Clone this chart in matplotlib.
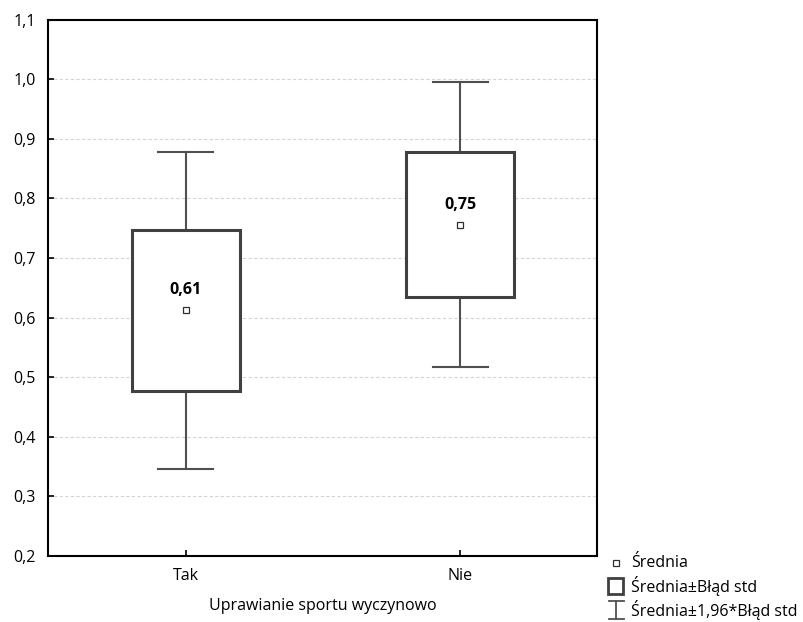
import numpy as np
import matplotlib.pyplot as plt
from matplotlib.patches import Rectangle

plt.rcParams['font.family'] = ['Open Sans', 'DejaVu Sans']

# dane
grupy = ['Tak', 'Nie']
srednia = [0.612, 0.756]
blad_std = [0.1355, 0.122]
etykiety = ['0,61', '0,75']

fig = plt.figure(figsize=(8.04, 6.22), dpi=100)
ax = fig.add_axes([48.5 / 804, 1 - 556 / 622, 549 / 804, 536.5 / 622])

kolor_box = '#404040'
kolor_wasy = '#505050'
szer = 0.395
cap = 0.2

for i, (m, se) in enumerate(zip(srednia, blad_std)):
    lo, hi = m - 1.96 * se, m + 1.96 * se
    # wasy
    ax.plot([i, i], [lo, m - se], color=kolor_wasy, lw=1.5, zorder=2)
    ax.plot([i, i], [m + se, hi], color=kolor_wasy, lw=1.5, zorder=2)
    ax.plot([i - cap / 2, i + cap / 2], [hi, hi], color=kolor_wasy, lw=1.5, zorder=2)
    ax.plot([i - cap / 2, i + cap / 2], [lo, lo], color=kolor_wasy, lw=1.5, zorder=2)
    # pudelko
    ax.add_patch(Rectangle((i - szer / 2, m - se), szer, 2 * se, facecolor='white',
                           edgecolor=kolor_box, lw=2.2, zorder=3))
    # srednia
    ax.plot(i, m, marker='s', ms=5, mfc='white', mec='#303030', mew=0.9, zorder=4)
    ax.text(i, m + 0.02, etykiety[i], ha='center', va='bottom', fontsize=11.5,
            fontweight='bold', zorder=5)

ax.set_xlim(-0.5, 1.5)
ax.set_ylim(0.2, 1.1)
ax.set_xticks([0, 1])
ax.set_xticklabels(grupy)
yt = np.arange(0.2, 1.101, 0.1)
ax.set_yticks(yt)
ax.set_yticklabels([f'{v:.1f}'.replace('.', ',') for v in yt])
ax.tick_params(direction='in', length=4, width=1.2, labelsize=11.5, colors='black', pad=9)
ax.tick_params(axis='x', pad=9)
for s in ax.spines.values():
    s.set_linewidth(1.5)
ax.yaxis.grid(True, linestyle=(0, (3, 2)), color='#d4d4d4', lw=0.8)
ax.set_axisbelow(True)
ax.set_xlabel('Uprawianie sportu wyczynowo', fontsize=11.5, labelpad=10)

# legenda
lg = fig.add_axes([0, 0, 1, 1], facecolor='none')
lg.set_xlim(0, 804)
lg.set_ylim(622, 0)
lg.axis('off')
lg.plot(616, 563, marker='s', ms=5, mfc='white', mec='#303030', mew=0.9)
lg.add_patch(Rectangle((608.5, 578), 15, 16, facecolor='white', edgecolor=kolor_box, lw=2))
lg.plot([616, 616], [601, 619], color=kolor_wasy, lw=1.3)
lg.plot([609, 624], [601, 601], color=kolor_wasy, lw=1.3)
lg.plot([609, 624], [619, 619], color=kolor_wasy, lw=1.3)
lg.text(631, 563, 'Średnia', va='center', fontsize=11.5)
lg.text(631, 586, 'Średnia±Błąd std', va='center', fontsize=11.5)
lg.text(631, 610, 'Średnia±1,96*Błąd std', va='center', fontsize=11.5)

fig.savefig('out.png', dpi=100)
